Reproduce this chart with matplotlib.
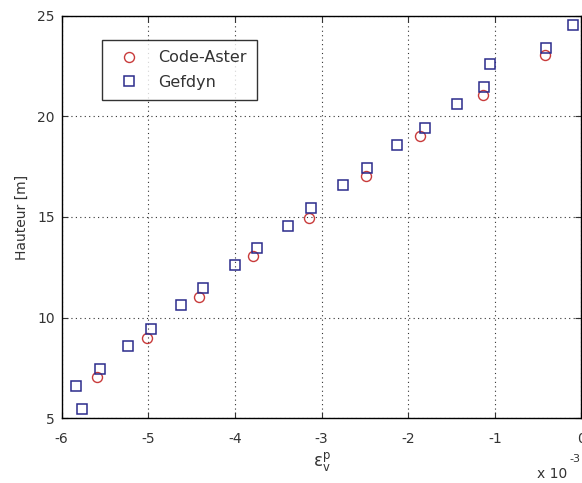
import matplotlib
matplotlib.use("Agg")
import matplotlib.pyplot as plt
import numpy as np

plt.rcParams['font.family'] = ['DejaVu Sans']

# Data (x in units of 1e-3)
aster_x = [-5.59, -5.02, -4.42, -3.79, -3.14, -2.49, -1.86, -1.14, -0.42]
aster_y = [7.05, 9.0, 11.03, 13.04, 14.96, 17.03, 19.01, 21.04, 23.03]

gefdyn_x = [-5.84, -5.77, -5.56, -5.23, -4.97, -4.62, -4.37, -4.005, -3.75,
            -3.39, -3.125, -2.75, -2.475, -2.125, -1.81, -1.44, -1.12, -1.06,
            -0.41, -0.10]
gefdyn_y = [6.60, 5.46, 7.45, 8.59, 9.42, 10.61, 11.45, 12.61, 13.45,
            14.56, 15.47, 16.61, 17.44, 18.58, 19.42, 20.61, 21.46, 22.58,
            23.39, 24.55]

xticks = [-6, -5, -4, -3, -2, -1, 0]
yticks = [5, 10, 15, 20, 25]

fig = plt.figure(figsize=(5.82, 4.83), dpi=100)
ax = fig.add_axes([0.106, 0.134, 0.893, 0.8335])

ax.plot(aster_x, aster_y, linestyle='none', marker='o', markersize=7.2,
        markerfacecolor='none', markeredgecolor='#c83a3a', markeredgewidth=1.0,
        label='Code-Aster', clip_on=False)
ax.plot(gefdyn_x, gefdyn_y, linestyle='none', marker='s', markersize=6.8,
        markerfacecolor='none', markeredgecolor='#2b2b8c', markeredgewidth=1.1,
        label='Gefdyn', clip_on=False)

ax.set_xlim(-6, 0)
ax.set_ylim(5, 25)
ax.set_xticks(xticks)
ax.set_yticks(yticks)
ax.set_xticklabels([str(t) for t in xticks])
ax.set_yticklabels([str(t) for t in yticks])
ax.grid(True, linestyle=(0, (1, 3)), color='#333333', linewidth=0.8)
ax.tick_params(direction='in', length=4, top=True, right=True,
               labelsize=10, colors='#333333')
ax.tick_params(axis='x', pad=10)
ax.tick_params(axis='y', pad=5)
for s in ax.spines.values():
    s.set_linewidth(1.0)
    s.set_color('black')

ax.set_ylabel('Hauteur [m]', fontsize=10, color='#333333', labelpad=6)
ax.set_xlabel(r'$\mathrm{\varepsilon}_\mathrm{v}^\mathrm{p}$', fontsize=12,
              color='#333333', labelpad=3)
fig.text(0.922, 0.004, 'x 10', fontsize=10, color='#333333', ha='left', va='bottom')
fig.text(0.979, 0.039, '-3', fontsize=8, color='#333333', ha='left', va='bottom')

leg = ax.legend(loc='upper left', bbox_to_anchor=(0.0785, 0.94), frameon=True,
                fancybox=False, edgecolor='black', fontsize=11.5,
                handletextpad=0.85, borderpad=0.65, labelspacing=0.6,
                handlelength=2.0, borderaxespad=0)
leg.get_frame().set_linewidth(1.0)
for t in leg.get_texts():
    t.set_color('#333333')

fig.savefig('out.png', dpi=100)
